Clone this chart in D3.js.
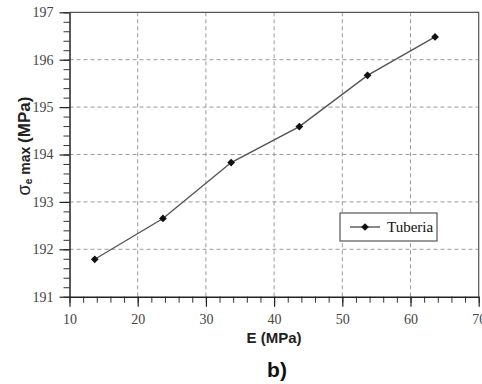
<!DOCTYPE html>
<html>
<head>
<meta charset="utf-8">
<script src="https://cdn.jsdelivr.net/npm/d3@7"></script>
<style>
	body { margin: 0; background: #fff; }
	svg { display: block; }
</style>
</head>
<body>
<svg id="chart" width="482" height="384"></svg>
<script>
// Values
var eValues = [13.7, 23.7, 33.7, 43.7, 53.7, 63.6];
var sigmaValues = [191.79, 192.65, 193.83, 194.59, 195.67, 196.48];
var xTicks = [10, 20, 30, 40, 50, 60, 70];
var yTicks = [191, 192, 193, 194, 195, 196, 197];
var seriesName = "Tuberia";

var svg = d3.select("#chart");

// Plot area
var plot = { left: 69.5, right: 478.7, top: 12.3, bottom: 296.7 };

var x = d3.scaleLinear().domain([10, 70]).range([plot.left, plot.right]);
var y = d3.scaleLinear().domain([191, 197]).range([plot.bottom, plot.top]);

var serif = "'Liberation Serif', 'Times New Roman', serif";
var sans = "'Liberation Sans', Arial, sans-serif";

// Grid
var grid = svg.append("g")
	.attr("stroke", "#9a9a9a")
	.attr("stroke-width", 1)
	.attr("stroke-dasharray", "4,3");

grid.selectAll(".vgrid")
	.data(xTicks.slice(1, -1))
	.enter().append("line")
		.attr("x1", function(d) { return x(d); })
		.attr("x2", function(d) { return x(d); })
		.attr("y1", plot.top)
		.attr("y2", plot.bottom);

grid.selectAll(".hgrid")
	.data(yTicks.slice(1, -1))
	.enter().append("line")
		.attr("x1", plot.left)
		.attr("x2", plot.right)
		.attr("y1", function(d) { return y(d); })
		.attr("y2", function(d) { return y(d); });

// Frame (top and right)
svg.append("path")
	.attr("d", "M" + plot.left + "," + plot.top + "H" + plot.right + "V" + plot.bottom)
	.attr("fill", "none")
	.attr("stroke", "#555")
	.attr("stroke-width", 1.2);

// Minor ticks
var xMinor = d3.range(10, 70.01, 2);
var yMinor = d3.range(191, 197.01, 0.2);

svg.append("g")
	.attr("transform", "translate(0," + plot.bottom + ")")
	.call(d3.axisBottom(x).tickValues(xMinor).tickSize(6).tickFormat(""))
	.call(function(g) { g.select(".domain").remove(); g.selectAll("line").attr("stroke", "#333"); });

svg.append("g")
	.attr("transform", "translate(" + plot.left + ",0)")
	.call(d3.axisLeft(y).tickValues(yMinor).tickSize(6).tickFormat(""))
	.call(function(g) { g.select(".domain").remove(); g.selectAll("line").attr("stroke", "#333"); });

// Major axes
var xAxis = svg.append("g")
	.attr("transform", "translate(0," + plot.bottom + ")")
	.call(d3.axisBottom(x).tickValues(xTicks).tickSize(10).tickSizeOuter(0).tickPadding(7).tickFormat(d3.format("d")));

var yAxis = svg.append("g")
	.attr("transform", "translate(" + plot.left + ",0)")
	.call(d3.axisLeft(y).tickValues(yTicks).tickSize(10).tickSizeOuter(0).tickPadding(6).tickFormat(d3.format("d")));

[xAxis, yAxis].forEach(function(g) {
	g.select(".domain").attr("stroke", "#222").attr("stroke-width", 1.5);
	g.selectAll(".tick line").attr("stroke", "#222").attr("stroke-width", 1.2);
	g.selectAll(".tick text")
		.attr("fill", "#444")
		.style("font", "14px " + serif);
});

// Line
var line = d3.line()
	.x(function(d, i) { return x(eValues[i]); })
	.y(function(d) { return y(d); });

svg.append("path")
	.datum(sigmaValues)
	.attr("fill", "none")
	.attr("stroke", "#555")
	.attr("stroke-width", 1.4)
	.attr("d", line);

var diamond = d3.symbol().type(d3.symbolSquare).size(30);

svg.selectAll(".marker")
	.data(sigmaValues)
	.enter().append("path")
		.attr("class", "marker")
		.attr("d", diamond)
		.attr("fill", "#111")
		.attr("transform", function(d, i) { return "translate(" + x(eValues[i]) + "," + y(d) + ") rotate(45)"; });

// Legend
var legend = svg.append("g").attr("transform", "translate(340,213)");

legend.append("rect")
	.attr("width", 97)
	.attr("height", 28)
	.attr("fill", "#fff")
	.attr("stroke", "#555")
	.attr("stroke-width", 1.2);

legend.append("line")
	.attr("x1", 10).attr("x2", 40)
	.attr("y1", 14).attr("y2", 14)
	.attr("stroke", "#555")
	.attr("stroke-width", 1.4);

legend.append("path")
	.attr("d", diamond)
	.attr("fill", "#111")
	.attr("transform", "translate(25,14) rotate(45)");

legend.append("text")
	.attr("x", 47)
	.attr("y", 19)
	.attr("fill", "#111")
	.style("font", "15px " + serif)
	.text(seriesName);

// Axis titles
svg.append("text")
	.attr("x", 274)
	.attr("y", 343)
	.attr("text-anchor", "middle")
	.attr("fill", "#222")
	.style("font", "bold 15px " + sans)
	.text("E (MPa)");

var yTitle = svg.append("text")
	.attr("transform", "translate(30,146) rotate(-90)")
	.attr("text-anchor", "middle")
	.attr("fill", "#222")
	.style("font-family", sans);

yTitle.append("tspan").style("font-size", "18px").text("σ");
yTitle.append("tspan").style("font-size", "10px").style("font-weight", "bold").attr("dy", 2).text("e");
yTitle.append("tspan").style("font-size", "14px").style("font-weight", "bold").attr("dy", -2).text(" max ");
yTitle.append("tspan").style("font-size", "17px").style("font-weight", "bold").text("(MPa)");

// Panel label
svg.append("text")
	.attr("x", 277)
	.attr("y", 377)
	.attr("text-anchor", "middle")
	.attr("fill", "#111")
	.style("font", "bold 21px " + sans)
	.text("b)");
</script>
</body>
</html>
